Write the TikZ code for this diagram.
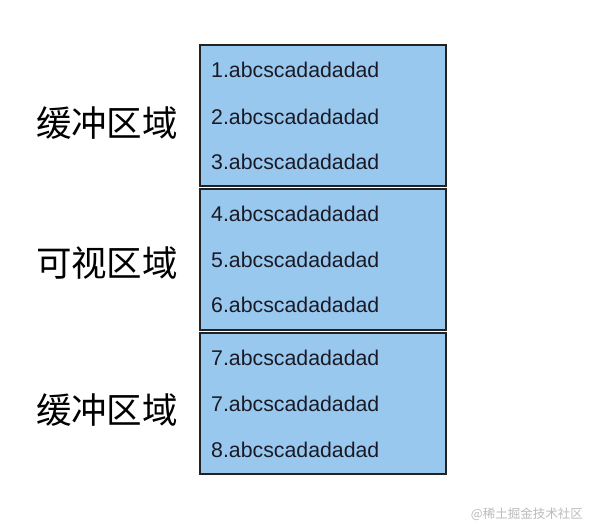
\documentclass[tikz,border=0pt]{standalone}
\usepackage{fontspec}
\setmainfont{Liberation Sans}
\newfontfamily\cjk{Noto Sans CJK SC}
\definecolor{boxfill}{HTML}{99C8EE}
\definecolor{boxline}{HTML}{222222}
\definecolor{rowtext}{HTML}{1A1A26}
\definecolor{wmark}{HTML}{BBBBBB}
\begin{document}
\begin{tikzpicture}[x=1pt,y=-1pt,
  area/.style={draw=boxline,line width=2pt,fill=boxfill,minimum width=246pt,minimum height=141pt,inner sep=0pt},
  row/.style={anchor=base west,inner sep=0pt,text=rowtext,font=\fontsize{21.3}{24}\selectfont},
  arealabel/.style={inner sep=0pt,font=\cjk\fontsize{35.5}{40}\selectfont,text=black},
  wmtext/.style={anchor=base east,inner sep=0pt,text=wmark,font=\cjk\fontsize{12.5}{15}\selectfont}]
\fill[white] (0,0) rectangle (590,525);
\useasboundingbox (0,0) rectangle (590,525);
\node[area] (b1) at (323,115.5) {};
\node[area] (b2) at (323,259) {};
\node[area] (b3) at (323,403) {};
\node[row] (r1) at (211,77.7) {1.abcscadadadad};
\node[row] (r2) at (211,124.7) {2.abcscadadadad};
\node[row] (r3) at (211,169.7) {3.abcscadadadad};
\node[row] (r4) at (211,221.7) {4.abcscadadadad};
\node[row] (r5) at (211,267.7) {5.abcscadadadad};
\node[row] (r6) at (211,312.7) {6.abcscadadadad};
\node[row] (r7) at (211,365.7) {7.abcscadadadad};
\node[row] (r8) at (211,411.7) {7.abcscadadadad};
\node[row] (r9) at (211,457.7) {8.abcscadadadad};
\node[arealabel] (l1) at (107,123) {缓冲区域};
\node[arealabel] (l2) at (107,263) {可视区域};
\node[arealabel] (l3) at (107,410) {缓冲区域};
\node[wmtext] (wm) at (583,518) {@稀土掘金技术社区};
\end{tikzpicture}
\end{document}
